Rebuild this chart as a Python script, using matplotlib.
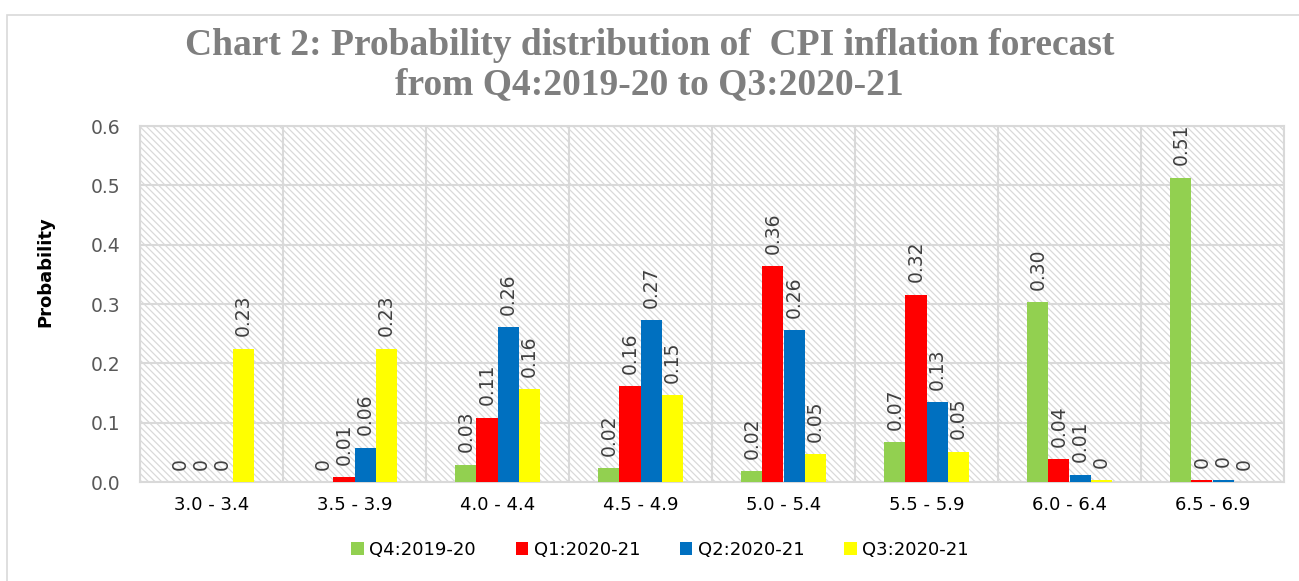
import numpy as np
import matplotlib.pyplot as plt
from matplotlib.patches import Rectangle

# data
categories = ["3.0 - 3.4", "3.5 - 3.9", "4.0 - 4.4", "4.5 - 4.9",
              "5.0 - 5.4", "5.5 - 5.9", "6.0 - 6.4", "6.5 - 6.9"]
series = ["Q4:2019-20", "Q1:2020-21", "Q2:2020-21", "Q3:2020-21"]
q4_1920 = [0.0, 0.0, 0.029, 0.023, 0.018, 0.067, 0.303, 0.513]
q1_2021 = [0.0, 0.008, 0.108, 0.161, 0.364, 0.316, 0.038, 0.003]
q2_2021 = [0.0, 0.058, 0.261, 0.273, 0.256, 0.134, 0.012, 0.004]
q3_2021 = [0.225, 0.225, 0.156, 0.146, 0.047, 0.051, 0.003, 0.0]
colors = ["#92D050", "#FF0000", "#0070C0", "#FFFF00"]

plt.rcParams["hatch.linewidth"] = 0.9

fig = plt.figure(figsize=(12.99, 5.81), dpi=100)
ax = fig.add_axes([140/1299, 99/581, 1144/1299, 356/581])

# hatched plot-area background
ax.add_patch(Rectangle((0, 0), 1, 1, transform=ax.transAxes, facecolor="white",
                       edgecolor="#d9d9d9", hatch="\\\\\\\\\\", linewidth=0, zorder=0))

x = np.arange(len(categories))
w = 0.147
for i, (vals, c) in enumerate(zip([q4_1920, q1_2021, q2_2021, q3_2021], colors)):
    pos = x + (i - 1.5) * w
    ax.bar(pos, vals, width=w, color=c, label=series[i], zorder=3)
    for px, v in zip(pos, vals):
        txt = "0" if round(v, 2) == 0 else "%.2f" % v
        ax.annotate(txt, (px, v), xytext=(0, 9), textcoords="offset points",
                    rotation=90, ha="center", va="bottom", fontsize=13.5,
                    color="#404040", zorder=4)

ax.set_xlim(-0.5, len(categories) - 0.5)
ax.set_ylim(0, 0.6)
ax.set_yticks(np.arange(0, 0.61, 0.1))
ax.set_yticklabels(["%.1f" % t for t in np.arange(0, 0.61, 0.1)])
ax.set_xticks(x)
ax.set_xticklabels(categories)
ax.set_xticks(np.arange(-0.5, len(categories)), minor=True)
ax.tick_params(axis="x", which="major", length=0, labelsize=13, pad=10, labelcolor="black")
ax.tick_params(axis="x", which="minor", length=0)
ax.tick_params(axis="y", length=0, labelsize=13.5, labelcolor="#595959", pad=14)
ax.grid(axis="y", color="#d9d9d9", linewidth=1.5, zorder=1)
ax.grid(axis="x", which="minor", color="#d9d9d9", linewidth=1.5, zorder=1)
for s in ax.spines.values():
    s.set_color("#d9d9d9")
    s.set_linewidth(1.5)

fig.text(45/1299, 1 - 272/581, "Probability", rotation=90, ha="center", va="center",
         fontsize=13, fontweight="bold")

fig.text(0.5, 1 - 65/581,
         "Chart 2: Probability distribution of  CPI inflation forecast\nfrom Q4:2019-20 to Q3:2020-21",
         ha="center", va="center", fontsize=27, fontweight="bold", color="#7f7f7f",
         family="Liberation Serif", linespacing=1.15)

handles, labels = ax.get_legend_handles_labels()
fig.legend(handles, labels, loc="center", bbox_to_anchor=(660/1299, 1 - 550/581), ncol=4,
           frameon=False, fontsize=13, handlelength=0.7, handleheight=0.7,
           handletextpad=0.3, columnspacing=2.2)

# outer chart border (only left and top edges fall inside the picture)
fig.patches.append(Rectangle((7/1299, -0.2), 1.1, 1.2 - 15/581, transform=fig.transFigure,
                             fill=False, edgecolor="#d9d9d9", linewidth=1.2))

fig.savefig("out.png", dpi=100)
